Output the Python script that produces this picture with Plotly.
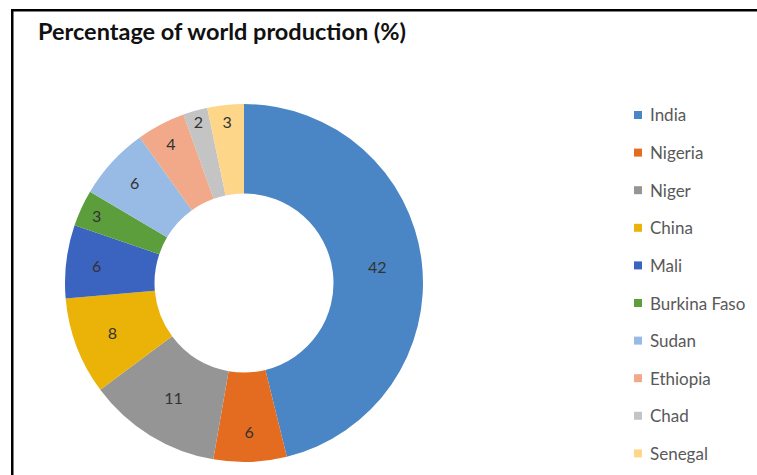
import plotly.graph_objects as go

W, H = 757, 475

countries = ["India", "Nigeria", "Niger", "China", "Mali", "Burkina Faso",
             "Sudan", "Ethiopia", "Chad", "Senegal"]
shares = [42, 6, 11, 8, 6, 3, 6, 4, 2, 3]
colors = ["#4A86C5", "#E46C21", "#959595", "#EBB307", "#3B63C0", "#5C9E3C",
          "#97BBE5", "#F1A98A", "#C4C4C4", "#FDD68A"]
title_text = "Percentage of world production (%)"

fig = go.Figure()
fig.add_trace(go.Pie(
    labels=countries, values=shares, sort=False, direction="clockwise",
    rotation=0, hole=0.5,
    marker=dict(colors=colors, line=dict(width=0)),
    texttemplate="%{value}", textposition="inside", insidetextorientation="horizontal",
    textfont=dict(family="Lato, Open Sans, sans-serif", size=16, color="#333333"),
    domain=dict(x=[64 / W, 424 / W], y=[1 - 462 / H, 1 - 104 / H]),
    showlegend=False,
))

# manual legend (Excel-style spacing)
row0, step = 115, 37.6
annotations = []
shapes = []
for i, (name, col) in enumerate(zip(countries, colors)):
    yc = row0 + i * step
    shapes.append(dict(type="rect", xref="paper", yref="paper",
                       x0=634 / W, x1=642 / W, y0=1 - (yc + 4) / H, y1=1 - (yc - 4) / H,
                       fillcolor=col, line=dict(width=0)))
    annotations.append(dict(text=name, xref="paper", yref="paper",
                            x=648 / W, y=1 - yc / H, xanchor="left", yanchor="middle",
                            showarrow=False,
                            font=dict(family="Lato, Open Sans, sans-serif", size=17, color="#595959")))

annotations.append(dict(text="<b>" + title_text + "</b>", xref="paper", yref="paper",
                        x=36 / W, y=1 - 31 / H, xanchor="left", yanchor="middle",
                        showarrow=False,
                        font=dict(family="Lato, sans-serif", size=23.5, color="#111111")))

# frame (left and top) as a filled L-shaped polygon
x0, yt = 11 / W, 1 - 9 / H
x1, yb = 13.5 / W, 1 - 11.5 / H
shapes.append(dict(type="path", xref="paper", yref="paper", layer="above",
                   path=f"M {x0} 0 L {x0} {yt} L 1 {yt} L 1 {yb} L {x1} {yb} L {x1} 0 Z",
                   fillcolor="black", line=dict(width=0)))

fig.update_layout(
    width=W, height=H, margin=dict(l=0, r=0, t=0, b=0),
    paper_bgcolor="white", plot_bgcolor="white",
    annotations=annotations, shapes=shapes,
)

fig.write_html("out.html", config={"displayModeBar": False})
